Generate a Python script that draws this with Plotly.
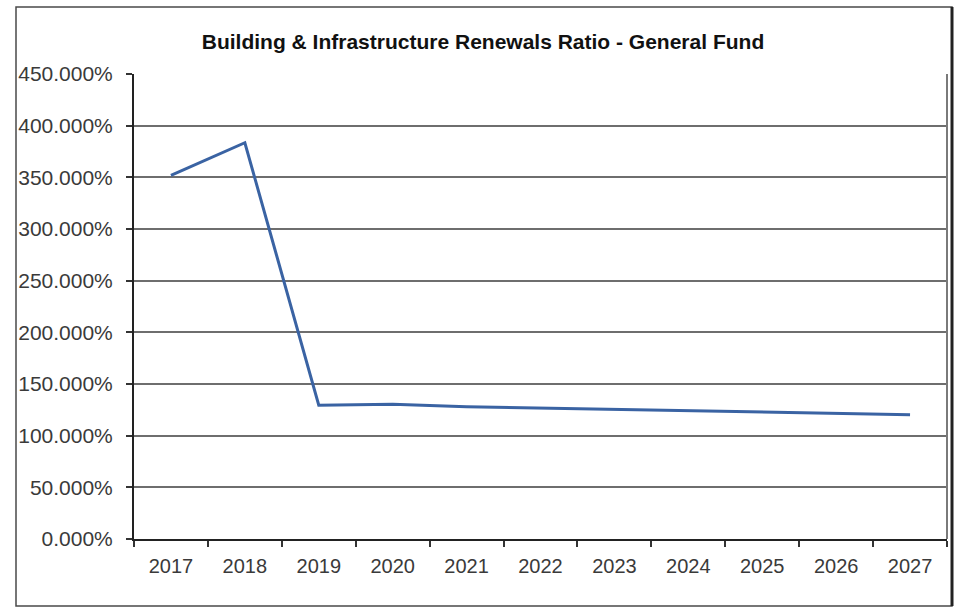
import plotly.graph_objects as go

# Renewals ratio by year, in percent
years = ["2017", "2018", "2019", "2020", "2021", "2022", "2023", "2024", "2025", "2026", "2027"]
ratio_pct = [352.0, 383.5, 129.5, 130.5, 128.0, 126.8, 125.8, 124.2, 122.9, 121.6, 120.3]

W, H = 964, 609
L, R, T, B = 134, 17, 74, 70
pw, ph = W - L - R, H - T - B


def px_x(v):
    return (v - L) / pw


def px_y(v):
    return (H - B - v) / ph


fig = go.Figure()
fig.add_trace(go.Scatter(
    x=years, y=ratio_pct, mode="lines",
    line=dict(color="#3A63A3", width=3),
    hoverinfo="x+y",
))

font_main = "Arial, Liberation Sans, sans-serif"

fig.update_layout(
    width=W, height=H,
    margin=dict(l=L, r=R, t=T, b=B),
    paper_bgcolor="white", plot_bgcolor="white",
    showlegend=False,
    title=dict(
        text="<b>Building & Infrastructure Renewals Ratio - General Fund</b>",
        x=483 / W, xanchor="center", y=1 - 42 / H, yanchor="middle",
        font=dict(family=font_main, size=21, color="#111111"),
    ),
    xaxis=dict(
        type="category", range=[-0.5, 10.5],
        showgrid=False, zeroline=False,
        showline=True, linecolor="#222222", linewidth=2,
        ticks="outside", tickson="boundaries", ticklen=6, tickwidth=2, tickcolor="#333333",
        ticklabelstandoff=8,
        tickfont=dict(family=font_main, size=20, color="#3a3a3a"),
    ),
    yaxis=dict(
        range=[0, 450], dtick=50, tick0=0,
        tickformat=".3f", ticksuffix="%",
        showgrid=True, gridcolor="#6e6e6e", gridwidth=2,
        zeroline=False,
        showline=True, linecolor="#222222", linewidth=2,
        ticks="outside", ticklen=6, tickwidth=2, tickcolor="#333333",
        ticklabelstandoff=9,
        tickfont=dict(family=font_main, size=21, color="#3a3a3a"),
    ),
    shapes=[
        # right edge of the plot area
        dict(type="line", xref="paper", yref="paper", x0=1, x1=1, y0=0, y1=1,
             line=dict(color="#7a7a7a", width=2)),
        # outer frame around the whole chart
        dict(type="rect", xref="paper", yref="paper",
             x0=px_x(16), x1=px_x(952), y0=px_y(606), y1=px_y(7),
             line=dict(color="#4a4a4a", width=1.5), layer="below"),
        dict(type="line", xref="paper", yref="paper",
             x0=px_x(952), x1=px_x(952), y0=px_y(606), y1=px_y(7),
             line=dict(color="#222222", width=3)),
    ],
)

fig.write_html("out.html")
